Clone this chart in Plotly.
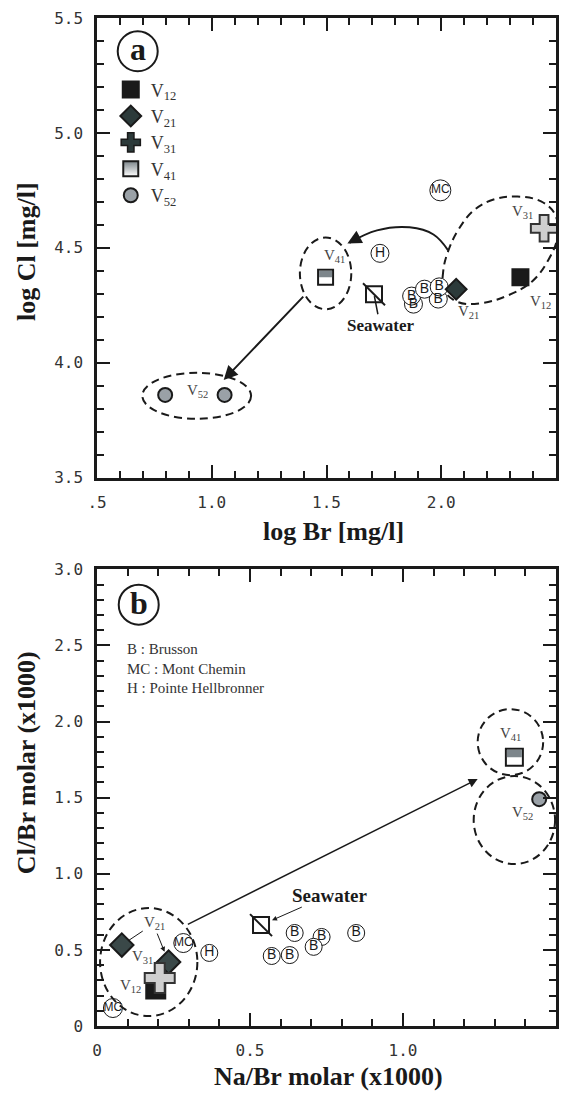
import plotly.graph_objects as go

# ---------------- Panel a : log Br vs log Cl ----------------
a_v12_x = [2.345]; a_v12_y = [4.372]
a_v21_x = [2.065]; a_v21_y = [4.320]
a_v31_x = [2.448]; a_v31_y = [4.585]
a_v41_x = [1.496]; a_v41_y = [4.372]
a_v52_x = [0.797, 1.056]; a_v52_y = [3.860, 3.860]
a_sw_x = [1.707]; a_sw_y = [4.298]
a_b_x = [1.879, 1.987, 1.871, 1.927, 1.991]
a_b_y = [4.255, 4.277, 4.290, 4.320, 4.330]
a_mc_x = [1.996]; a_mc_y = [4.750]
a_h_x = [1.733]; a_h_y = [4.476]

a_xtickvals = [0.5, 1.0, 1.5, 2.0, 2.5]
a_xticktext = [".5", "1.0", "1.5", "2.0", "2.5"]
a_ytickvals = [3.5, 4.0, 4.5, 5.0, 5.5]
a_yticktext = ["3.5", "4.0", "4.5", "5.0", "5.5"]

# ---------------- Panel b : Na/Br vs Cl/Br ----------------
b_v12_x = [0.192]; b_v12_y = [0.243]
b_v21_x = [0.081, 0.234]; b_v21_y = [0.532, 0.420]
b_v31_x = [0.205]; b_v31_y = [0.315]
b_v41_x = [1.364]; b_v41_y = [1.766]
b_v52_x = [1.445]; b_v52_y = [1.490]
b_sw_x = [0.536]; b_sw_y = [0.663]
b_b_x = [0.646, 0.734, 0.847, 0.708, 0.630, 0.571]
b_b_y = [0.611, 0.585, 0.611, 0.520, 0.466, 0.460]
b_mc_x = [0.282, 0.052]; b_mc_y = [0.545, 0.118]
b_h_x = [0.367]; b_h_y = [0.480]

b_xtickvals = [0, 0.5, 1.0, 1.5]
b_xticktext = ["0", "0.5", "1.0", "1.5"]
b_ytickvals = [0, 0.5, 1.0, 1.5, 2.0, 2.5, 3.0]
b_yticktext = ["0", "0.5", "1.0", "1.5", "2.0", "2.5", "3.0"]

names = ["V<sub>12</sub>", "V<sub>21</sub>", "V<sub>31</sub>", "V<sub>41</sub>", "V<sub>52</sub>"]

INK = "#1a1a1a"
GRAY_T = "#444444"
SERIF = "Liberation Serif"
SANS = "Liberation Sans"
TICKF = "DejaVu Sans Mono"

fig = go.Figure()


def pts(x, y, ax, symbol, size, color, lw=2, name=None, legend=False, lcolor=INK):
    xa, ya = ("x", "y") if ax == "a" else ("x2", "y2")
    fig.add_trace(go.Scatter(
        x=x, y=y, xaxis=xa, yaxis=ya, mode="markers", name=name or "",
        showlegend=legend, hoverinfo="skip",
        marker=dict(symbol=symbol, size=size, color=color, line=dict(color=lcolor, width=lw)),
    ))


def circ_text(x, y, ax, label, size, fsize):
    xa, ya = ("x", "y") if ax == "a" else ("x2", "y2")
    fig.add_trace(go.Scatter(
        x=x, y=y, xaxis=xa, yaxis=ya, mode="markers+text", text=[label] * len(x),
        textposition="middle center", showlegend=False, hoverinfo="skip",
        textfont=dict(family=SANS, size=fsize, color=INK),
        marker=dict(symbol="circle", size=size, color="white", line=dict(color=INK, width=1)),
    ))


def line(xs, ys, ax, dash=None, shape="spline"):
    xa, ya = ("x", "y") if ax == "a" else ("x2", "y2")
    fig.add_trace(go.Scatter(
        x=xs, y=ys, xaxis=xa, yaxis=ya, mode="lines", showlegend=False, hoverinfo="skip",
        line=dict(color=INK, width=2, dash=dash, shape=shape, smoothing=1.1),
    ))

# ---- panel a decorations (loop + curved arrow) ----
loop_x = [2.030, 2.009, 2.013, 2.073, 2.172, 2.293, 2.397, 2.466, 2.506, 2.496, 2.435, 2.332, 2.228, 2.142, 2.073, 2.030]
loop_y = [4.485, 4.402, 4.316, 4.264, 4.259, 4.294, 4.355, 4.446, 4.546, 4.645, 4.702, 4.723, 4.710, 4.663, 4.576, 4.485]
line(loop_x, loop_y, "a", dash="8px,5px")
curve_x = [2.030, 1.966, 1.862, 1.720, 1.600]
curve_y = [4.489, 4.558, 4.589, 4.576, 4.522]
line(curve_x, curve_y, "a")

# ---- panel a points ----
circ_text(a_b_x, a_b_y, "a", "B", 18, 14)
circ_text(a_mc_x, a_mc_y, "a", "MC", 21, 12)
circ_text(a_h_x, a_h_y, "a", "H", 18, 14)
pts(a_sw_x, a_sw_y, "a", "square", 16, "white")
pts(a_sw_x, a_sw_y, "a", "line-nw", 22, INK, lw=2)
pts(a_v12_x, a_v12_y, "a", "square", 16, INK, name=names[0], legend=True)
pts(a_v21_x, a_v21_y, "a", "diamond", 16, "#2c3a3a", name=names[1], legend=True)
pts(a_v31_x, a_v31_y, "a", "cross", 22, "#cfcfcf", lw=2, name=names[2], legend=False, lcolor="#333333")
# legend key for V31 (dark cross, as in the key)
fig.add_trace(go.Scatter(x=[None], y=[None], mode="markers", name=names[2], showlegend=True,
                         marker=dict(symbol="cross", size=16, color="#2c3a3a", line=dict(color=INK, width=1.5))))
pts(a_v41_x, a_v41_y, "a", "square", 15, "white", lw=2)
fig.add_trace(go.Scatter(x=[None], y=[None], mode="markers", name=names[3], showlegend=True,
                         marker=dict(symbol="square", size=15, color="#7d868b",
                                     gradient=dict(type="vertical", color="white"),
                                     line=dict(color=INK, width=2))))
pts(a_v52_x, a_v52_y, "a", "circle", 14, "#9aa1a7", name=names[4], legend=True)

# ---- panel b points ----
circ_text(b_b_x, b_b_y, "b", "B", 17, 14)
circ_text(b_mc_x, b_mc_y, "b", "MC", 19, 12)
circ_text(b_h_x, b_h_y, "b", "H", 17, 14)
pts(b_sw_x, b_sw_y, "b", "square", 16, "white")
pts(b_sw_x, b_sw_y, "b", "line-nw", 22, INK, lw=2)
pts(b_v12_x, b_v12_y, "b", "square", 19, INK)
pts(b_v21_x, b_v21_y, "b", "diamond", 18, "#3a4848")
pts(b_v31_x, b_v31_y, "b", "cross", 25, "#cfcfcf", lw=2, lcolor="#333333")
pts(b_v41_x, b_v41_y, "b", "square", 17, "white", lw=2)
pts(b_v52_x, b_v52_y, "b", "circle", 14, "#9aa1a7")

# ---------------- shapes ----------------
shapes = []
DASH = "8px,5px"


def ell(xref, yref, xc, yc, rx, ry):
    shapes.append(dict(type="circle", xref=xref, yref=yref, x0=xc - rx, x1=xc + rx,
                       y0=yc - ry, y1=yc + ry, line=dict(color=INK, width=2, dash=DASH)))

# panel a groups
ell("x", "y", a_v41_x[0], a_v41_y[0] + 0.017, 0.112, 0.156)
ell("x", "y", (a_v52_x[0] + a_v52_x[1]) / 2 + 0.008, a_v52_y[0] - 0.004, 0.237, 0.100)
# panel b groups
ell("x2", "y2", b_v41_x[0] - 0.013, b_v41_y[0] + 0.099, 0.107, 0.217)
ell("x2", "y2", b_v52_x[0] - 0.081, b_v52_y[0] - 0.137, 0.133, 0.289)
ell("x2", "y2", 0.169, 0.420, 0.159, 0.355)

# half grey fill for V41 squares
for xr, yr, xv, yv, h in [("x", "y", a_v41_x[0], a_v41_y[0], 6.5), ("x2", "y2", b_v41_x[0], b_v41_y[0], 7.5)]:
    shapes.append(dict(type="rect", xref=xr, yref=yr, xsizemode="pixel", ysizemode="pixel",
                       xanchor=xv, yanchor=yv, x0=-h, x1=h, y0=0, y1=h,
                       fillcolor="#7d868b", line=dict(width=0), layer="above"))

# panel letter circles
LET_A = (0.0887, 0.967)
LET_B = (0.0909, 0.418)
for xa, ya in [LET_A, LET_B]:
    shapes.append(dict(type="circle", xref="paper", yref="paper", xsizemode="pixel", ysizemode="pixel",
                       xanchor=xa, yanchor=ya, x0=-20, x1=20, y0=-20, y1=20,
                       line=dict(color=INK, width=2)))

# ---------------- annotations ----------------
ann = []


def vlab(xr, yr, x, y, txt, dx, dy, size=15):
    ann.append(dict(xref=xr, yref=yr, x=x, y=y, text=txt, showarrow=False, xshift=dx, yshift=dy,
                    xanchor="center", yanchor="middle",
                    font=dict(family=SERIF, size=size, color=GRAY_T)))

vlab("x", "y", a_v41_x[0], a_v41_y[0], names[3], 9, 21)
vlab("x", "y", a_v31_x[0], a_v31_y[0], names[2], -22, 16)
vlab("x", "y", a_v12_x[0], a_v12_y[0], names[0], 20, -25)
vlab("x", "y", a_v21_x[0], a_v21_y[0], names[1], 12, -23)
vlab("x", "y", a_v52_x[1], a_v52_y[1], names[4], -27, 4)

vlab("x2", "y2", b_v41_x[0], b_v41_y[0], names[3], -4, 23)
vlab("x2", "y2", b_v52_x[0], b_v52_y[0], names[4], -17, -14)
vlab("x2", "y2", b_v31_x[0], b_v31_y[0], names[2], -17, 21)
vlab("x2", "y2", b_v12_x[0], b_v12_y[0], names[0], -25, 3)

# V21 in panel b with leader lines
ann.append(dict(xref="x2", yref="y2", x=b_v21_x[0], y=b_v21_y[0], text=names[1], showarrow=True,
                ax=33, ay=-22, arrowhead=0, arrowwidth=1, arrowcolor=INK, standoff=8,
                font=dict(family=SERIF, size=15, color=GRAY_T)))
ann.append(dict(xref="x2", yref="y2", x=b_v21_x[1], y=b_v21_y[1], text="", showarrow=True,
                ax=-12, ay=-30, arrowhead=2, arrowsize=1, arrowwidth=1, arrowcolor=INK, standoff=11))

# Seawater labels
ann.append(dict(xref="x", yref="y", x=a_sw_x[0], y=a_sw_y[0], text="<b>Seawater</b>", showarrow=True,
                ax=6, ay=31, arrowhead=0, arrowwidth=1.5, arrowcolor=INK, standoff=2,
                font=dict(family=SERIF, size=17, color=INK)))
ann.append(dict(xref="x2", yref="y2", x=b_sw_x[0], y=b_sw_y[0], text="<b>Seawater</b>", showarrow=True,
                ax=68, ay=-30, arrowhead=2, arrowsize=1, arrowwidth=1, arrowcolor=INK, standoff=12,
                font=dict(family=SERIF, size=19, color=INK)))

# group arrows
ann.append(dict(xref="x", yref="y", axref="x", ayref="y", x=1.052, y=3.925, ax=1.405, ay=4.294,
                showarrow=True, arrowhead=2, arrowsize=1.4, arrowwidth=2, arrowcolor=INK, text=""))
ann.append(dict(xref="x", yref="y", axref="x", ayref="y", x=1.591, y=4.519, ax=1.640, ay=4.545,
                showarrow=True, arrowhead=2, arrowsize=1.4, arrowwidth=2, arrowcolor=INK, text=""))
ann.append(dict(xref="x2", yref="y2", axref="x2", ayref="y2", x=1.244, y=1.622, ax=0.292, ay=0.663,
                showarrow=True, arrowhead=2, arrowsize=1.2, arrowwidth=1.5, arrowcolor=INK, text=""))

# panel letters
for (lx, ly), letter in [(LET_A, "a"), (LET_B, "b")]:
    ann.append(dict(xref="paper", yref="paper", x=lx, y=ly, text="<b>%s</b>" % letter, showarrow=False,
                    xanchor="center", yanchor="middle",
                    font=dict(family=SERIF, size=32, color=INK), yshift=2))

# key text in panel b
ann.append(dict(xref="paper", yref="paper", x=0.061, y=0.355, xanchor="left", yanchor="middle",
                align="left", showarrow=False,
                text="B : Brusson<br>MC : Mont Chemin<br>H : Pointe Hellbronner",
                font=dict(family=SERIF, size=15, color="#333333")))

# axis titles
TF = dict(family=SERIF, size=26, color=INK)
for tx, ty, txt, ang in [(0.515, 0.4906, "<b>log Br [mg/l]</b>", 0),
                         (-0.152, 0.768, "<b>log Cl [mg/l]</b>", -90),
                         (0.505, -0.0505, "<b>Na/Br molar (x1000)</b>", 0),
                         (-0.152, 0.261, "<b>Cl/Br molar (x1000)</b>", -90)]:
    ann.append(dict(xref="paper", yref="paper", x=tx, y=ty, text=txt, showarrow=False,
                    xanchor="center", yanchor="middle", textangle=ang, font=TF))

AX = dict(showgrid=False, zeroline=False, showline=True, linecolor=INK, linewidth=2.5, mirror="ticks",
          ticks="inside", ticklen=13, tickwidth=2, tickcolor=INK, tickmode="array",
          ticklabelstandoff=8,
          tickfont=dict(family=TICKF, size=16, color="#333333"),
          minor=dict(ticks="inside", ticklen=7, tickwidth=1.5, tickcolor=INK, tickmode="linear",
                     tick0=0, dtick=0.1, showgrid=False))

fig.update_layout(
    width=568, height=1100, plot_bgcolor="white", paper_bgcolor="white",
    margin=dict(l=97, r=9, t=15, b=74),
    showlegend=True,
    legend=dict(x=0.03, y=0.947, xanchor="left", yanchor="top", bgcolor="rgba(0,0,0,0)",
                font=dict(family=SERIF, size=18, color="#333333"), tracegroupgap=0,
                itemwidth=30),
    xaxis=dict(AX, domain=[0, 1], range=[0.5, 2.5], anchor="y",
               tickvals=a_xtickvals, ticktext=a_xticktext),
    yaxis=dict(AX, domain=[0.544, 1], range=[3.5, 5.5], anchor="x",
               tickvals=a_ytickvals, ticktext=a_yticktext),
    xaxis2=dict(AX, domain=[0, 1], range=[0, 1.5], anchor="y2",
                tickvals=b_xtickvals, ticktext=b_xticktext),
    yaxis2=dict(AX, domain=[0, 0.453], range=[0, 3.0], anchor="x2",
                tickvals=b_ytickvals, ticktext=b_yticktext),
    shapes=shapes, annotations=ann,
)

fig.write_html("out.html")
